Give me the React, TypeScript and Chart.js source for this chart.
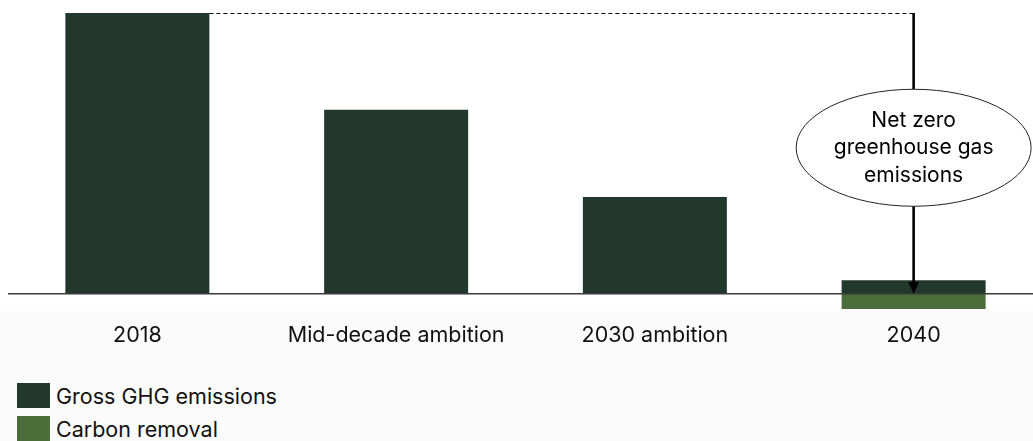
import React, { useEffect, useRef } from "react";
import { Chart, registerables } from "chart.js";

Chart.register(...registerables);

const categories = ["2018", "Mid-decade ambition", "2030 ambition", "2040"];
const grossEmissions = [100, 65.5, 34.5, 4.8];
const carbonRemoval = [0, 0, 0, -5.4];
const seriesNames = ["Gross GHG emissions", "Carbon removal"];
const seriesColors = ["#23382d", "#4a6d3a"];
const calloutLines = ["Net zero", "greenhouse gas", "emissions"];
const calloutCenterValue = 52;

const FONT = "Inter, 'DejaVu Sans', sans-serif";

const annotationPlugin = {
  id: "netZeroAnnotation",
  afterDatasetsDraw(chart: any) {
    const { ctx, scales } = chart;
    const x = scales.x;
    const y = scales.y;
    const y0 = y.getPixelForValue(0);
    const yTop = y.getPixelForValue(grossEmissions[0]);
    const meta = chart.getDatasetMeta(0);
    const firstBar = meta.data[0];
    const lastIdx = categories.length - 1;
    const ax = x.getPixelForValue(lastIdx);

    ctx.save();
    // baseline
    ctx.strokeStyle = "#3a3a3a";
    ctx.lineWidth = 1.3;
    ctx.beginPath();
    ctx.moveTo(0, y0);
    ctx.lineTo(chart.width, y0);
    ctx.stroke();

    // dashed reference line
    ctx.strokeStyle = "#000000";
    ctx.lineWidth = 1;
    ctx.setLineDash([4, 3]);
    ctx.beginPath();
    ctx.moveTo(firstBar.x + firstBar.width / 2, yTop + 0.5);
    ctx.lineTo(ax, yTop + 0.5);
    ctx.stroke();
    ctx.setLineDash([]);

    // arrow shaft
    const headH = 12;
    const headW = 11;
    ctx.lineWidth = 2.6;
    ctx.beginPath();
    ctx.moveTo(ax, yTop);
    ctx.lineTo(ax, y0 - headH + 1);
    ctx.stroke();
    // arrow head
    ctx.fillStyle = "#000000";
    ctx.beginPath();
    ctx.moveTo(ax - headW / 2, y0 - headH);
    ctx.lineTo(ax + headW / 2, y0 - headH);
    ctx.lineTo(ax, y0);
    ctx.closePath();
    ctx.fill();

    // ellipse callout
    const cy = y.getPixelForValue(calloutCenterValue);
    ctx.beginPath();
    ctx.ellipse(ax, cy, 117.5, 58.5, 0, 0, Math.PI * 2);
    ctx.fillStyle = "#ffffff";
    ctx.fill();
    ctx.lineWidth = 1;
    ctx.strokeStyle = "#222222";
    ctx.stroke();

    ctx.fillStyle = "#000000";
    ctx.font = "21px " + FONT;
    ctx.textAlign = "center";
    ctx.textBaseline = "middle";
    const lh = 27.5;
    calloutLines.forEach((t, i) => {
      ctx.fillText(t, ax, cy + (i - (calloutLines.length - 1) / 2) * lh);
    });
    ctx.restore();
  },
};

export default function App() {
  const ref = useRef<HTMLCanvasElement | null>(null);
  useEffect(() => {
    if (!ref.current) return;
    const chart = new Chart(ref.current, {
      type: "bar",
      data: {
        labels: categories,
        datasets: [
          {
            label: seriesNames[0],
            data: grossEmissions,
            backgroundColor: seriesColors[0],
            barPercentage: 0.5565,
            categoryPercentage: 1,
          },
          {
            label: seriesNames[1],
            data: carbonRemoval,
            backgroundColor: seriesColors[1],
            barPercentage: 0.5565,
            categoryPercentage: 1,
          },
        ],
      },
      options: {
        responsive: false,
        animation: false,
        maintainAspectRatio: false,
        layout: { padding: { top: 13, left: 0, right: 0, bottom: 0 } },
        plugins: {
          legend: { display: false },
          tooltip: { enabled: false },
        },
        scales: {
          x: {
            stacked: true,
            grid: { display: false, drawTicks: false },
            border: { display: false },
            ticks: {
              color: "#111111",
              font: { family: FONT, size: 21.5 },
              padding: 6,
              maxRotation: 0,
              autoSkip: false,
            },
          },
          y: {
            stacked: true,
            display: false,
            min: -8,
            max: 100,
          },
        },
      },
      plugins: [annotationPlugin],
    });
    return () => chart.destroy();
  }, []);

  return (
    <div
      style={{
        position: "absolute",
        left: 0,
        top: 0,
        width: 1033,
        height: 441,
        overflow: "hidden",
        background: "#ffffff",
      }}
    >
      <div
        style={{
          position: "absolute",
          left: 0,
          top: 311,
          width: 1033,
          height: 130,
          background: "#fbfbfb",
        }}
      />
      <canvas
        ref={ref}
        width={1035}
        height={354}
        style={{ position: "absolute", left: 8, top: 0, width: 1035, height: 354 }}
      />
      <div
        style={{
          position: "absolute",
          left: 17,
          top: 383,
          fontFamily: FONT,
          fontSize: 21.5,
          color: "#111111",
        }}
      >
        {seriesNames.map((name, i) => (
          <div
            key={name}
            style={{ display: "flex", alignItems: "center", height: 25, marginBottom: 8 }}
          >
            <span
              style={{
                display: "inline-block",
                width: 33,
                height: 25,
                background: seriesColors[i],
                marginRight: 6,
                flexShrink: 0,
              }}
            />
            <span style={{ whiteSpace: "nowrap" }}>{name}</span>
          </div>
        ))}
      </div>
    </div>
  );
}
